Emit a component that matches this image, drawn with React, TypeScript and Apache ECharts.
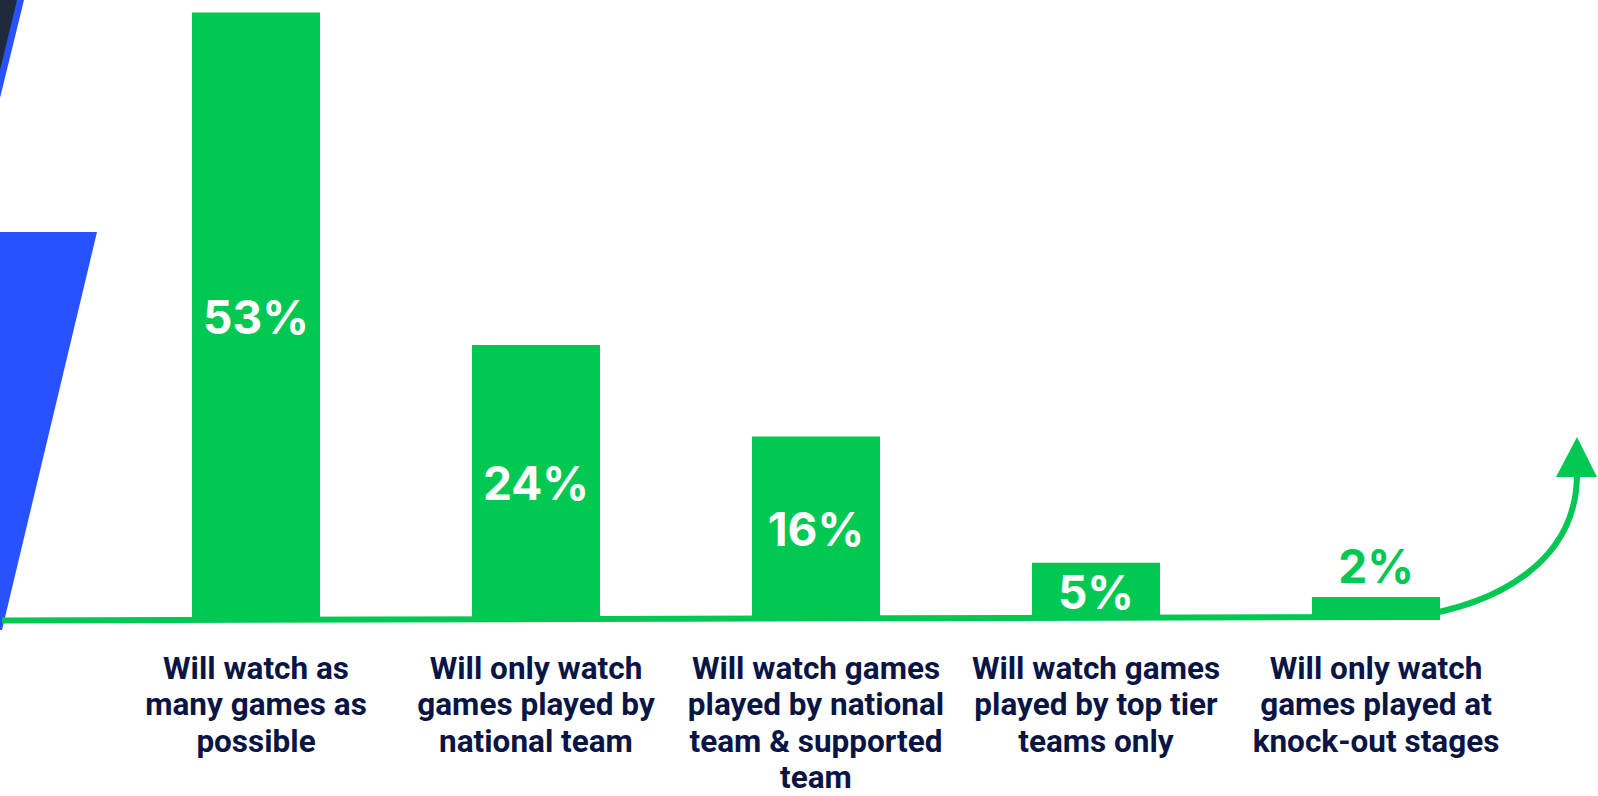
import React, { useEffect, useRef } from "react";
import * as echarts from "echarts";

const categories = [
  "Will watch as\nmany games as\npossible",
  "Will only watch\ngames played by\nnational team",
  "Will watch games\nplayed by national\nteam & supported\nteam",
  "Will watch games\nplayed by top tier\nteams only",
  "Will only watch\ngames played at\nknock-out stages",
];
const values = [53, 24, 16, 5, 2];
const insideLabel = [true, true, true, true, false];

const GREEN = "#00C853";
const NAVY = "#0B1544";
const BLUE = "#2851FF";

export default function App() {
  const ref = useRef<HTMLDivElement>(null);
  useEffect(() => {
    document.body.style.margin = "0";
    const chart = echarts.init(ref.current!, undefined, { renderer: "svg" });
    chart.setOption({
      animation: false,
      backgroundColor: "#ffffff",
      grid: {
        left: 116,
        right: 82,
        top: 9,
        bottom: 176,
        containLabel: false,
        outerBoundsMode: "none",
      },
      xAxis: {
        type: "category",
        data: categories,
        axisLine: { show: false },
        axisTick: { show: false },
        axisLabel: {
          interval: 0,
          color: NAVY,
          fontFamily: "Roboto",
          fontWeight: 700,
          fontSize: 31.5,
          lineHeight: 36.4,
          margin: 30,
          verticalAlign: "top",
        },
      },
      yAxis: {
        type: "value",
        min: 0,
        max: 53.3,
        show: false,
        splitLine: { show: false },
      },
      series: [
        {
          type: "bar",
          barWidth: 128,
          itemStyle: { color: GREEN },
          data: values.map((v, i) => ({
            value: v,
            label: {
              show: true,
              formatter: "{c}%",
              position: insideLabel[i] ? "inside" : "top",
              offset: insideLabel[i] ? [0, 1] : [0, 0],
              distance: 8,
              color: insideLabel[i] ? "#ffffff" : GREEN,
              fontFamily: "Inter",
              fontWeight: 700,
              fontSize: 46,
              lineHeight: 46,
            },
          })),
        },
      ],
      graphic: [
        {
          type: "polygon",
          shape: { points: [[0, 232], [97, 232], [2, 630], [0, 630]] },
          style: { fill: BLUE },
          z: 1,
        },
        {
          type: "polygon",
          shape: { points: [[0, 0], [24, 0], [0, 98]] },
          style: { fill: BLUE },
          z: 1,
        },
        {
          type: "polygon",
          shape: { points: [[0, 0], [17, 0], [0, 70]] },
          style: { fill: "#1E293B" },
          z: 2,
        },
        {
          type: "line",
          shape: { x1: 2, y1: 620.5, x2: 1412, y2: 617 },
          style: { stroke: GREEN, lineWidth: 6 },
          z: 100,
        },
        {
          type: "bezierCurve",
          shape: {
            x1: 1410, y1: 617,
            cpx1: 1500, cpy1: 605,
            cpx2: 1577, cpy2: 560,
            x2: 1577, y2: 474,
          },
          style: { stroke: GREEN, lineWidth: 6, fill: null },
          z: 100,
        },
        {
          type: "polygon",
          shape: { points: [[1577, 437], [1597, 477], [1556, 477]] },
          style: { fill: GREEN },
          z: 100,
        },
      ],
    });
    return () => chart.dispose();
  }, []);
  return <div ref={ref} style={{ width: 1598, height: 796 }} />;
}
